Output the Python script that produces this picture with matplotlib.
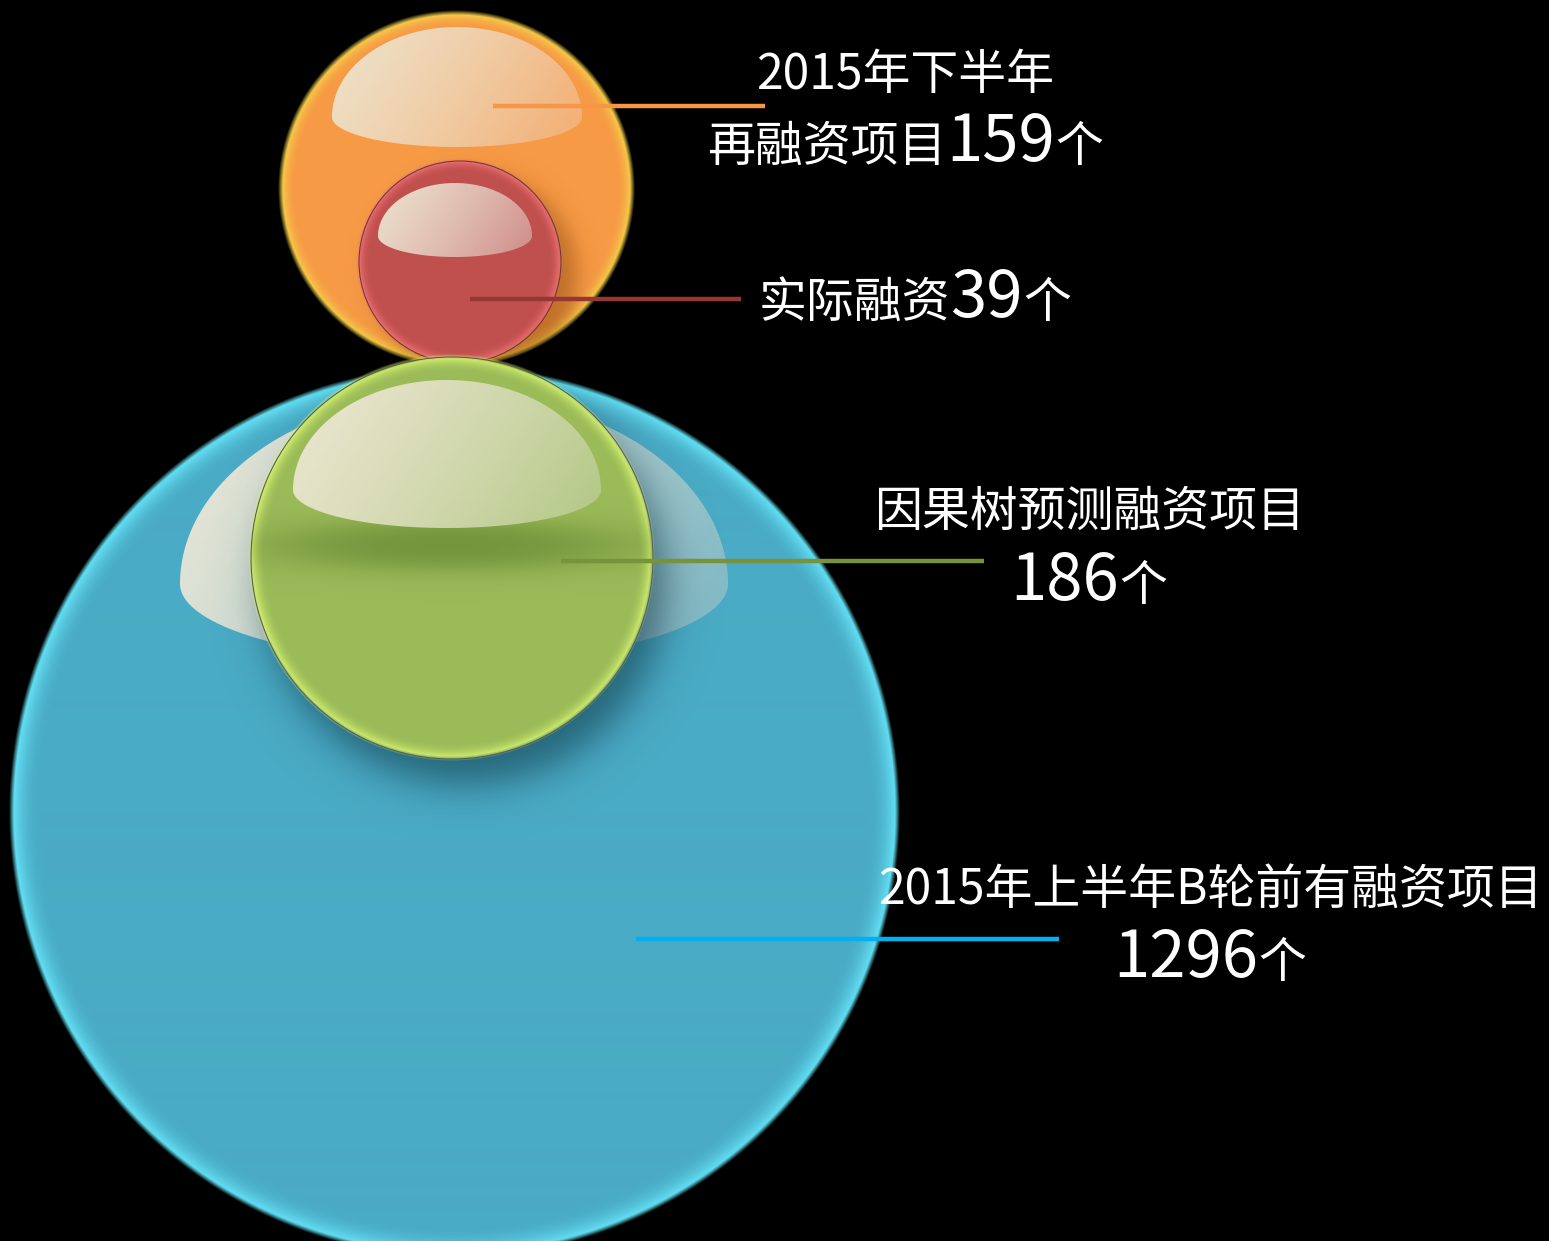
import numpy as np
import matplotlib.pyplot as plt
from matplotlib.patches import Circle, PathPatch
from matplotlib.path import Path
from matplotlib.colors import to_rgb

plt.rcParams['font.family'] = ['Noto Sans CJK SC', 'DejaVu Sans']

# data: blue, green, orange, red
label_top = ['2015年上半年B轮前有融资项目', '因果树预测融资项目', '2015年下半年', '']
label_inline = ['', '', '再融资项目', '实际融资']
values = [1296, 186, 159, 39]
unit = '个'

# layout (pixels, y downward)
centers = [(455, 812), (452, 558), (457, 189), (460, 262)]
radii = [443, 201, 176, 101]
body = ['#4aabc6', '#9bbb59', '#f79a45', '#c0504d']
rim = ['#66e8fb', '#dcf870', '#f6d84a', '#f0707a']
rim_w = [28, 16, 16, 12]
line_col = ['#00b0f0', '#77933c', '#f79646', '#953735']
line_x = [(636, 1059), (561, 984), (493, 765), (470, 741)]
line_y = [939, 561, 106, 299]
text_x = [1210, 1089, 905, 915]
text_y1 = [904, 526, 89, None]
text_y2 = [977, 600, 161, 317]
# highlight domes: cx, cy, a, top height, bottom depth, light colour, tint colour
domes = [(454, 584, 274, 190, 78, '#efe9d7', '#7db8c7'),
         (447, 490, 154, 110, 38, '#eee8d4', '#b3c886'),
         (457, 117, 125, 90, 30, '#eee5cf', '#f3ae72'),
         (455, 236, 77, 53, 21, '#eee5d2', '#d08e8a')]

W, H = 1549, 1241
fig = plt.figure(figsize=(W / 100, H / 100), dpi=100, facecolor='black')
ax = fig.add_axes([0, 0, 1, 1])
ax.set_facecolor('black')
ax.set_xlim(0, W)
ax.set_ylim(H, 0)
ax.axis('off')


def grid(x0, x1, y0, y1):
    x = np.arange(int(x0), int(x1) + 1, 1.0)
    y = np.arange(int(y0), int(y1) + 1, 1.0)
    X, Y = np.meshgrid(x, y)
    return X, Y, (x[0] - 0.5, x[-1] + 0.5, y[-1] + 0.5, y[0] - 0.5)


def disc(cx, cy, r, c_body, c_rim, width, z):
    X, Y, ext = grid(cx - r - 6, cx + r + 6, cy - r - 6, min(cy + r + 6, H + 2))
    d = np.hypot(X - cx, Y - cy)
    t = np.clip((d - (r - width)) / width, 0, 1) ** 2
    rgb = (1 - t)[..., None] * np.array(to_rgb(c_body)) + t[..., None] * np.array(to_rgb(c_rim))
    alpha = np.clip((r + 2.5 - d) / 5, 0, 1)
    ax.imshow(np.dstack([rgb, alpha]), extent=ext, origin='upper', zorder=z,
              interpolation='bilinear')
    c = Circle((cx, cy), r, fc='none', ec='none', zorder=z)
    ax.add_patch(c)
    return c


def soft(cx, cy, a, b, blur, color, amax, z, clip):
    X, Y, ext = grid(cx - a - 3 * blur, cx + a + 3 * blur, cy - b - 3 * blur, cy + b + 3 * blur)
    d = np.hypot((X - cx) / a, (Y - cy) / b)
    e = (d - 1) * b
    alpha = amax / (1 + np.exp(np.clip(2.5 * e / blur, -50, 50)))
    rgb = np.ones(X.shape + (3,)) * np.array(to_rgb(color))
    im = ax.imshow(np.dstack([rgb, alpha]), extent=ext, origin='upper', zorder=z,
                   interpolation='bilinear')
    im.set_clip_path(clip)


def dome(cx, cy, a, bt, bb, c1, c2, z, clip=None):
    th = np.linspace(np.pi, 0, 120)
    top = np.c_[cx + a * np.cos(th), cy - bt * np.sin(th)]
    th2 = np.linspace(0, -np.pi, 120)[1:]
    bot = np.c_[cx + a * np.cos(th2), cy - bb * np.sin(th2)]
    verts = np.vstack([top, bot, top[:1]])
    patch = PathPatch(Path(verts, closed=True), fc='none', ec='none', zorder=z)
    ax.add_patch(patch)
    X, Y, ext = grid(cx - a - 2, cx + a + 2, cy - bt - 2, cy + bb + 2)
    u = ((X - (cx - a)) * 0.85 + (Y - (cy - bt)) * 0.55) / (2 * a * 0.85 + (bt + bb) * 0.55)
    t = np.clip(u, 0, 1) ** 1.3
    rgb = (1 - t)[..., None] * np.array(to_rgb(c1)) + t[..., None] * np.array(to_rgb(c2))
    im = ax.imshow(np.dstack([rgb, np.full(X.shape, 0.97)]), extent=ext, origin='upper',
                   zorder=z, interpolation='bilinear')
    im.set_clip_path(patch)


# blue bubble
blue = disc(*centers[0], radii[0], body[0], rim[0], rim_w[0], 1)
dome(*domes[0], 2)
soft(centers[1][0] + 14, centers[1][1] + 26, radii[1], radii[1], 30, '#0e3645', 0.6, 3, blue)

# orange bubble
orange = disc(*centers[2], radii[2], body[2], rim[2], rim_w[2], 4)
dome(*domes[2], 5)
soft(centers[3][0] + 16, centers[3][1] + 14, radii[3], radii[3], 16, '#7a3a05', 0.45, 5, orange)

# red bubble
red = disc(*centers[3], radii[3], body[3], rim[3], rim_w[3], 6)
ax.add_patch(Circle(centers[3], radii[3], fc='none', ec='#6e3a3a', lw=0.8, zorder=6))
dome(*domes[3], 7)

# green bubble
green = disc(*centers[1], radii[1], body[1], rim[1], rim_w[1], 8)
ax.add_patch(Circle(centers[1], radii[1], fc='none', ec='#5a6048', lw=0.8, zorder=8))
soft(450, 546, 165, 24, 16, '#5a7a2a', 0.6, 9, green)
dome(*domes[1], 10)

# leader lines
for (x0, x1), y, c in zip(line_x, line_y, line_col):
    ax.plot([x0, x1], [y, y], color=c, lw=3.2, solid_capstyle='butt', zorder=12)

# labels
small, big = 34.5, 47
renderer = fig.canvas.get_renderer()


def row(xc, yb, pieces):
    ts = [ax.text(0, yb, s, fontsize=fs, color='white', ha='left', va='baseline', zorder=13)
          for s, fs in pieces if s]
    ws = [t.get_window_extent(renderer).width for t in ts]
    x = xc - sum(ws) / 2
    for t, w in zip(ts, ws):
        t.set_x(x)
        x += w


for i in range(len(values)):
    if label_top[i]:
        row(text_x[i], text_y1[i], [(label_top[i], small)])
    row(text_x[i], text_y2[i], [(label_inline[i], small), (str(values[i]), big), (unit, small)])

fig.savefig('out.png', dpi=100, facecolor='black')
